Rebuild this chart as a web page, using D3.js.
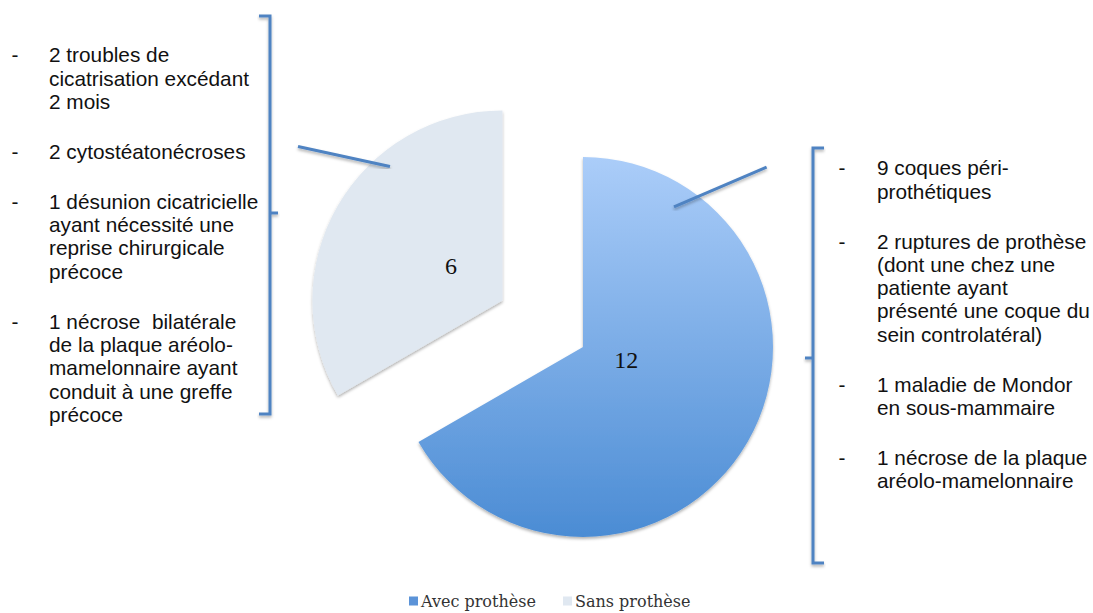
<!DOCTYPE html>
<html>
<head>
<meta charset="utf-8">
<script src="https://cdn.jsdelivr.net/npm/d3@7"></script>
<style>
  body { margin: 0; background: #fff; }
  .item { font-family: "Liberation Sans", Arial, sans-serif; font-size: 20.8px; fill: #111; white-space: pre; }
  .val { font-family: "Liberation Serif", serif; font-size: 24px; fill: #111; }
  .leg { font-family: "DejaVu Serif", serif; font-size: 16px; fill: #333; }
</style>
</head>
<body>
<div id="chart"></div>
<script>
// données
const categories = ["Avec prothèse", "Sans prothèse"];
const valeurs = [12, 6];

const complicationsSans = [
  ["2 troubles de", "cicatrisation excédant", "2 mois"],
  ["2 cytostéatonécroses"],
  ["1 désunion cicatricielle", "ayant nécessité une", "reprise chirurgicale", "précoce"],
  ["1 nécrose  bilatérale", "de la plaque aréolo-", "mamelonnaire ayant", "conduit à une greffe", "précoce"]
];
const complicationsAvec = [
  ["9 coques péri-", "prothétiques"],
  ["2 ruptures de prothèse", "(dont une chez une", "patiente ayant", "présenté une coque du", "sein controlatéral)"],
  ["1 maladie de Mondor", "en sous-mammaire"],
  ["1 nécrose de la plaque", "aréolo-mamelonnaire"]
];

const width = 1093, height = 613;
const cx = 583, cy = 347, r = 190;
const explode = 93;
const bleu = "#4f83c2";

let svg = d3.select("#chart").append("svg")
    .attr("width", width)
    .attr("height", height);

let defs = svg.append("defs");
let grad = defs.append("linearGradient")
    .attr("id", "gradAvec")
    .attr("gradientUnits", "userSpaceOnUse")
    .attr("x1", 0).attr("y1", -r).attr("x2", 0).attr("y2", r);
grad.append("stop").attr("offset", "0%").attr("stop-color", "#abcdf9");
grad.append("stop").attr("offset", "100%").attr("stop-color", "#4b8cd4");

let ombre = defs.append("filter").attr("id", "ombre")
    .attr("x", "-10%").attr("y", "-10%").attr("width", "120%").attr("height", "120%");
ombre.append("feDropShadow")
    .attr("dx", 0).attr("dy", 2).attr("stdDeviation", 1.5)
    .attr("flood-color", "#000").attr("flood-opacity", 0.3);

const couleurs = d3.scaleOrdinal().domain(categories).range(["url(#gradAvec)", "#e0e8f1"]);
const couleursLeg = d3.scaleOrdinal().domain(categories).range(["#5b93d8", "#e0e8f1"]);

const pie = d3.pie().sort(null).value(d => d.v);
const arc = d3.arc().innerRadius(0).outerRadius(r);
const arcs = pie(categories.map((c, i) => ({c: c, v: valeurs[i]})));

function decal(d, i) {
  if (i == 0) return [0, 0];
  let a = (d.startAngle + d.endAngle) / 2;
  return [Math.sin(a) * explode, -Math.cos(a) * explode];
}

let parts = svg.selectAll(".part")
    .data(arcs)
    .join("g")
    .attr("class", "part")
    .attr("transform", (d, i) => {
      let o = decal(d, i);
      return `translate(${cx + o[0]},${cy + o[1]})`;
    });

parts.append("path")
    .attr("d", arc)
    .attr("fill", d => couleurs(d.data.c))
    .attr("filter", "url(#ombre)");

// valeurs
const lab = [d3.arc().innerRadius(0).outerRadius(100), d3.arc().innerRadius(0).outerRadius(126)];
parts.append("text")
    .attr("class", "val")
    .attr("text-anchor", "middle")
    .attr("dy", "0.35em")
    .attr("transform", (d, i) => {
      let p = lab[i].centroid(d);
      return `translate(${p[0] + (i == 1 ? 3 : 0)},${p[1] - (i == 0 ? 12 : 3)})`;
    })
    .text(d => d.data.v);

// lignes de rappel (angle, rayon début, angle, rayon fin)
const rappels = [[33, 167, 45.6, 257], [320, 175, 307, 256]];
parts.append("line")
    .attr("x1", (d, i) => d3.pointRadial(rappels[i][0] * Math.PI / 180, rappels[i][1])[0])
    .attr("y1", (d, i) => d3.pointRadial(rappels[i][0] * Math.PI / 180, rappels[i][1])[1])
    .attr("x2", (d, i) => d3.pointRadial(rappels[i][2] * Math.PI / 180, rappels[i][3])[0])
    .attr("y2", (d, i) => d3.pointRadial(rappels[i][2] * Math.PI / 180, rappels[i][3])[1])
    .attr("stroke", bleu)
    .attr("stroke-width", 3)
    .attr("filter", "url(#ombre)");

// accolades : crochets vers le texte, pointe vers le camembert
function accolade(x, y0, y1, ym, cote) {
  // cote = 1 : texte à gauche, pointe à droite ; cote = -1 : l'inverse
  let p = d3.path();
  p.moveTo(x - 11 * cote, y0); p.lineTo(x, y0); p.lineTo(x, y1); p.lineTo(x - 11 * cote, y1);
  p.moveTo(x, ym); p.lineTo(x + 8 * cote, ym);
  return p.toString();
}
svg.append("path")
    .attr("d", accolade(270, 16, 414, 213, 1))
    .attr("fill", "none").attr("stroke", bleu).attr("stroke-width", 3)
    .attr("filter", "url(#ombre)");
svg.append("path")
    .attr("d", accolade(813, 148, 563, 358, -1))
    .attr("fill", "none").attr("stroke", bleu).attr("stroke-width", 3)
    .attr("filter", "url(#ombre)");

// listes
const interligne = 23.3, ecart = 50;
function liste(items, xTiret, xTexte, yDebut) {
  let g = svg.append("g");
  let y = yDebut;
  items.forEach(lignes => {
    g.append("text").attr("class", "item").attr("x", xTiret).attr("y", y).attr("dy", "0.35em")
      .attr("text-anchor", "middle").text("-");
    lignes.forEach((l, j) => {
      g.append("text").attr("class", "item").attr("x", xTexte).attr("y", y + j * interligne)
        .attr("dy", "0.35em").text(l);
    });
    y += (lignes.length - 1) * interligne + ecart;
  });
}
liste(complicationsSans, 15, 49, 55);
liste(complicationsAvec, 842, 877, 168);

// légende
let leg = svg.append("g").attr("transform", "translate(409,601)");
let lx = [0, 154];
categories.forEach((c, i) => {
  leg.append("rect").attr("x", lx[i]).attr("y", -4.5).attr("width", 9).attr("height", 9)
    .attr("fill", couleursLeg(c));
  leg.append("text").attr("class", "leg").attr("x", lx[i] + 12).attr("y", 0).attr("dy", "0.35em").text(c);
});
</script>
</body>
</html>
